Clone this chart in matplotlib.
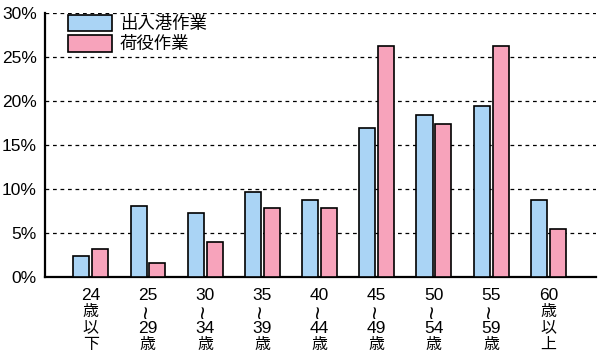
import numpy as np
import matplotlib
matplotlib.use("Agg")
import matplotlib.pyplot as plt
import matplotlib.transforms as mtransforms

plt.rcParams['font.family'] = ['Liberation Sans', 'Noto Sans CJK JP']

# Data (each label as its stacked lines, "~" = vertical wave)
age_labels = [["24", "歳", "以", "下"], ["25", "~", "29", "歳"], ["30", "~", "34", "歳"],
              ["35", "~", "39", "歳"], ["40", "~", "44", "歳"], ["45", "~", "49", "歳"],
              ["50", "~", "54", "歳"], ["55", "~", "59", "歳"], ["60", "歳", "以", "上"]]
port_work = [2.4, 8.1, 7.3, 9.7, 8.8, 16.9, 18.4, 19.4, 8.8]
cargo_work = [3.2, 1.6, 4.0, 7.8, 7.8, 26.2, 17.4, 26.2, 5.5]
series_names = ["出入港作業", "荷役作業"]
yticks = [0, 5, 10, 15, 20, 25, 30]

fig = plt.figure(figsize=(6, 3.55), dpi=100)
ax = fig.add_axes([0.075, 0.2197, 0.918, 0.7437])

x = np.arange(len(age_labels))
w = 0.28
ax.bar(x - 0.165, port_work, w, color='#aad4f5', edgecolor='black', linewidth=1.2,
       label=series_names[0], zorder=3)
ax.bar(x + 0.165, cargo_work, w, color='#f7a3bb', edgecolor='black', linewidth=1.2,
       label=series_names[1], zorder=3)

ax.set_xlim(-0.8, 8.83)
ax.set_ylim(0, 30)
ax.set_yticks(yticks)
ax.set_yticklabels([f"{v}%" for v in yticks], fontsize=12.5)
ax.set_xticks(x)
ax.set_xticklabels([])
ax.tick_params(length=0, pad=6)

# stacked x labels, one text per line, offset below the axis
trans = ax.get_xaxis_transform()
line_offsets = [-18, -34.5, -51, -67]  # pixels below the axis at 100 dpi
for xi, lines in zip(x, age_labels):
    for dy, s in zip(line_offsets, lines):
        t = mtransforms.offset_copy(trans, fig=fig, x=0, y=dy * 0.72, units='points')
        if s == "~":
            ax.text(xi, 0, s, transform=t, ha='center', va='center', rotation=90,
                    fontsize=17, family='Liberation Sans')
        elif s.isdigit():
            ax.text(xi, 0, s, transform=t, ha='center', va='center', fontsize=12.5,
                    family='Liberation Sans')
        else:
            ax.text(xi, 0, s, transform=t, ha='center', va='center', fontsize=11.5,
                    family='Noto Sans CJK JP')

for v in yticks[1:]:
    ax.axhline(v, color='black', linestyle=(0, (3, 3)), linewidth=0.9, zorder=1)

for s in ['top', 'right']:
    ax.spines[s].set_visible(False)
ax.spines['left'].set_linewidth(1.6)
ax.spines['bottom'].set_linewidth(1.6)

ax.legend(loc='upper left', bbox_to_anchor=(0.03, 1.02), frameon=False,
          prop={'family': ['Noto Sans CJK JP'], 'size': 12.5},
          handlelength=2.5, handleheight=1.1, handletextpad=0.45,
          labelspacing=0.12, borderaxespad=0.0)

plt.savefig('out.png', dpi=100)
